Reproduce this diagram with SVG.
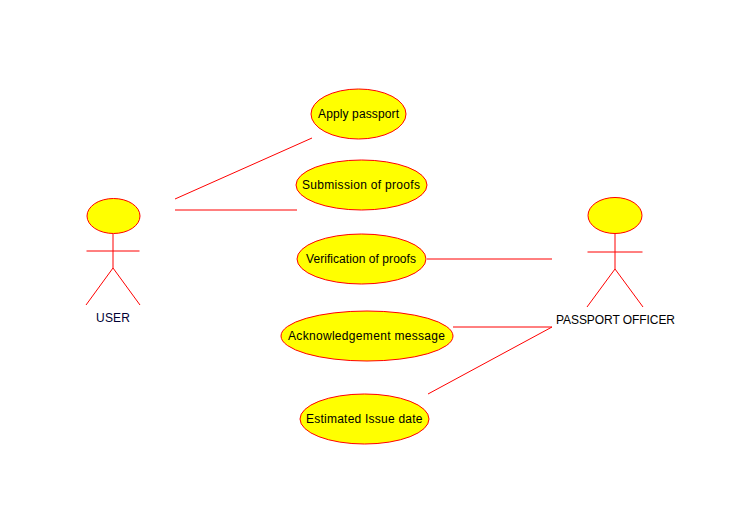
<svg xmlns="http://www.w3.org/2000/svg" width="745" height="521" viewBox="0 0 745 521">
<style>
.s{fill:#ffff00;stroke:#ff0000;stroke-width:1}
.l{stroke:#ff0000;stroke-width:1;fill:none}
text{font-family:"Liberation Sans",Arial,sans-serif;font-size:12px;fill:#000;text-anchor:start}
.a{fill:#000033}
</style>
<rect width="745" height="521" fill="#fff"/>
<g id="connectors">
<path class="l" d="M175 199L312 138"/>
<path class="l" d="M175 210H297"/>
<path class="l" d="M427 259H552"/>
<path class="l" d="M453 327H552"/>
<path class="l" d="M428 394L552 327"/>
</g>
<g id="user">
<ellipse class="s" cx="113.500" cy="216" rx="26.500" ry="17.500"/>
<path class="l" d="M113 234V268M86.500 251H139.500M113 268L86 305M113 268L140 305"/>
<text class="a" x="96" y="322" textLength="34" lengthAdjust="spacing">USER</text>
</g>
<g id="officer">
<ellipse class="s" cx="615" cy="215.500" rx="27" ry="18"/>
<path class="l" d="M615 234V269M587.500 252H642.500M615 269L587 307M615 269L643 307"/>
<text x="556" y="324" textLength="119" lengthAdjust="spacing">PASSPORT OFFICER</text>
</g>
<g id="apply"><ellipse class="s" cx="358.500" cy="114" rx="47.500" ry="25"/><text x="318" y="118" textLength="81" lengthAdjust="spacing">Apply passport</text></g>
<g id="submission"><ellipse class="s" cx="361.500" cy="185" rx="65.500" ry="25"/><text x="302" y="189" textLength="118" lengthAdjust="spacing">Submission of proofs</text></g>
<g id="verification"><ellipse class="s" cx="361.500" cy="259" rx="64.500" ry="25"/><text x="306" y="263" textLength="110" lengthAdjust="spacing">Verification of proofs</text></g>
<g id="acknowledgement"><ellipse class="s" cx="367" cy="336" rx="86" ry="25"/><text x="288" y="340" textLength="157" lengthAdjust="spacing">Acknowledgement message</text></g>
<g id="estimated"><ellipse class="s" cx="364.500" cy="419" rx="64.500" ry="25"/><text x="306" y="423" textLength="116.500" lengthAdjust="spacing">Estimated Issue date</text></g>
</svg>
